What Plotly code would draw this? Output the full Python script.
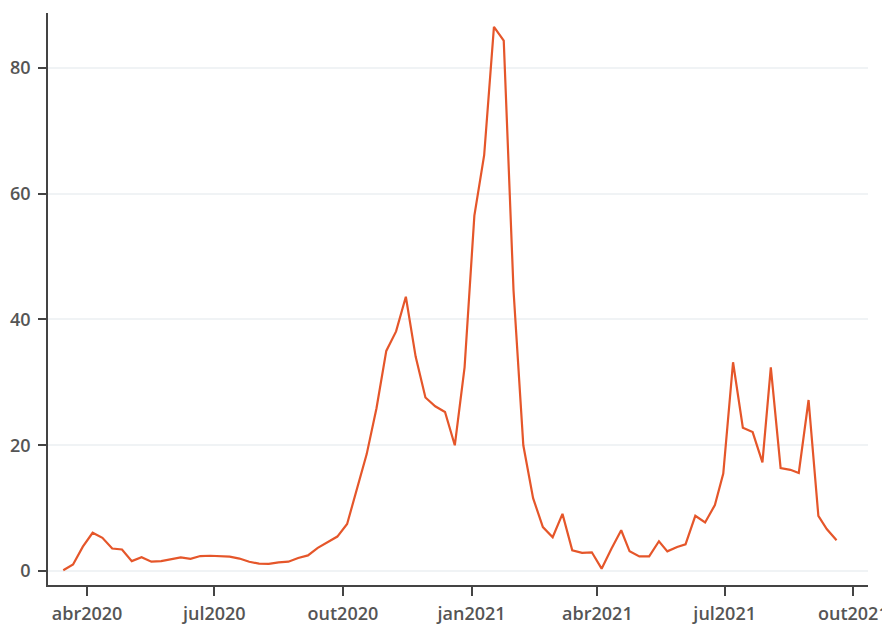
import plotly.graph_objects as go

dates = [
    "2020-03-15", "2020-03-22", "2020-03-29", "2020-04-05", "2020-04-12", "2020-04-19", "2020-04-26",
    "2020-05-03", "2020-05-10", "2020-05-17", "2020-05-24", "2020-05-31", "2020-06-07", "2020-06-14",
    "2020-06-21", "2020-06-28", "2020-07-05", "2020-07-12", "2020-07-19", "2020-07-26", "2020-08-02",
    "2020-08-09", "2020-08-16", "2020-08-23", "2020-08-30", "2020-09-06", "2020-09-13", "2020-09-20",
    "2020-09-27", "2020-10-04", "2020-10-11", "2020-10-18", "2020-10-25", "2020-11-01", "2020-11-08",
    "2020-11-15", "2020-11-22", "2020-11-29", "2020-12-06", "2020-12-13", "2020-12-20", "2020-12-27",
    "2021-01-03", "2021-01-10", "2021-01-17", "2021-01-24", "2021-01-31", "2021-02-07", "2021-02-14",
    "2021-02-21", "2021-02-28", "2021-03-07", "2021-03-14", "2021-03-21", "2021-03-28", "2021-04-04",
    "2021-04-11", "2021-04-18", "2021-04-24", "2021-05-01", "2021-05-08", "2021-05-15", "2021-05-21",
    "2021-05-28", "2021-06-03", "2021-06-10", "2021-06-17", "2021-06-24", "2021-06-30", "2021-07-07",
    "2021-07-14", "2021-07-21", "2021-07-28", "2021-08-03", "2021-08-10", "2021-08-17", "2021-08-23",
    "2021-08-30", "2021-09-06", "2021-09-12", "2021-09-19",
]

values = [
    0.15, 1.06, 3.9, 6.1, 5.3, 3.6, 3.45,
    1.6, 2.2, 1.5, 1.6, 1.9, 2.2, 1.96,
    2.4, 2.45, 2.4, 2.3, 2.0, 1.5, 1.2,
    1.15, 1.4, 1.5, 2.1, 2.5, 3.7, 4.6,
    5.5, 7.5, 12.9, 18.6, 25.9, 35.0, 38.1,
    43.6, 34.1, 27.6, 26.2, 25.3, 20.0, 32.4,
    56.5, 66.1, 86.5, 84.3, 44.6, 20.0, 11.6,
    7.0, 5.4, 9.1, 3.3, 2.9, 3.0, 0.4,
    3.55, 6.5, 3.15, 2.35, 2.35, 4.75, 3.15,
    3.85, 4.27, 8.8, 7.73, 10.5, 15.5, 33.2,
    22.8, 22.1, 17.3, 32.4, 16.4, 16.1, 15.6,
    27.2, 8.8, 6.7, 4.9,
]

tick_dates = ["2020-04-01", "2020-07-01", "2020-10-01", "2021-01-01", "2021-04-01", "2021-07-01", "2021-10-01"]
tick_labels = ["abr2020", "jul2020", "out2020", "jan2021", "abr2021", "jul2021", "out2021"]
y_ticks = [0, 20, 40, 60, 80]

fig = go.Figure()
fig.add_trace(go.Scatter(
    x=dates, y=values, mode="lines",
    line=dict(color="#E5562A", width=2.2),
    showlegend=False,
))

axis_font = dict(family="Open Sans", size=18, color="#555555", weight=600)

# the page body adds an 8px offset, so the figure is sized to the visible window
fig.update_layout(
    width=882, height=617,
    margin=dict(l=40, r=22, t=5, b=40),
    paper_bgcolor="white", plot_bgcolor="white",
    xaxis=dict(
        range=["2020-03-04 02:00", "2021-10-11 12:00"],
        tickmode="array", tickvals=tick_dates, ticktext=tick_labels,
        showgrid=False, zeroline=False, automargin=False,
        showline=True, linecolor="#444444", linewidth=1.5,
        ticks="outside", ticklen=9, tickcolor="#444444", tickwidth=1.5,
        tickfont=axis_font, ticklabelstandoff=3,
    ),
    yaxis=dict(
        range=[-2.2, 88.7],
        tickmode="array", tickvals=y_ticks,
        showgrid=True, gridcolor="#F0F3F5", gridwidth=1.5,
        zeroline=False, automargin=False,
        showline=True, linecolor="#444444", linewidth=1.5,
        ticks="outside", ticklen=8, tickcolor="#444444", tickwidth=1.5,
        tickfont=axis_font, ticklabelstandoff=4,
    ),
)

fig.write_html("out.html")
